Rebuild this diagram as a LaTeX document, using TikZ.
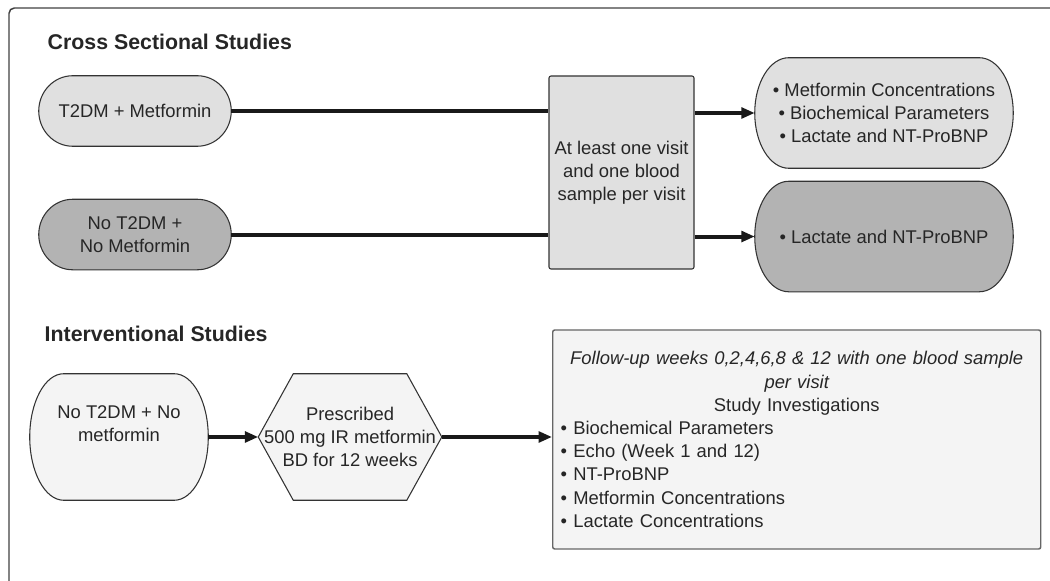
\documentclass[tikz,border=0pt]{standalone}
\usepackage{fontspec}
\setmainfont{Liberation Sans}
\usetikzlibrary{arrows.meta,positioning,calc,backgrounds}

\definecolor{boxlight}{HTML}{E0E0E0}
\definecolor{boxdark}{HTML}{B3B3B3}
\definecolor{boxpale}{HTML}{F4F4F4}
\definecolor{inkgray}{HTML}{262626}
\definecolor{edgegray}{HTML}{333333}

% half-width of the elliptic caps
\newcommand{\capr}{25.5pt}
% outline with elliptic ends round a named node
\newcommand{\stadium}[2]{%
  \path[draw=edgegray, line width=0.8pt, fill=#2]
    let \p1=(#1.north west), \p2=(#1.south east), \n1={(\y1-\y2)/2} in
    (\x1+\capr,\y1) -- (\x2-\capr,\y1)
    arc[start angle=90, end angle=-90, x radius=\capr, y radius=\n1]
    -- (\x1+\capr,\y2)
    arc[start angle=270, end angle=90, x radius=\capr, y radius=\n1] -- cycle;}
% flat hexagon round a named node
\newcommand{\hexa}[2]{%
  \path[draw=edgegray, line width=0.8pt, fill=#2]
    (#1.west) -- ($(#1.north west)+(35,0)$) -- ($(#1.north east)+(-35,0)$)
    -- (#1.east) -- ($(#1.south east)+(-35,0)$) -- ($(#1.south west)+(35,0)$) -- cycle;}

\begin{document}
\begin{tikzpicture}[
    x=0.75pt, y=0.75pt,
    font=\fontsize{13.8}{17.4}\selectfont,
    text=inkgray,
    >={Triangle[length=10pt,width=8pt]},
    heading/.style={anchor=base west, font=\fontsize{16}{18}\selectfont\bfseries},
    capsule/.style={
        rectangle, align=center, inner sep=0pt,
        minimum width=144pt, minimum height=52.5pt
    },
    result/.style={capsule, minimum width=193.5pt, minimum height=82.5pt},
    block/.style={
        rectangle, draw=edgegray, line width=0.8pt,
        rounded corners=1.5pt, align=center
    },
    link/.style={draw=black!90, line width=3pt},
]
  \useasboundingbox (0,0) rectangle (1050,581);

  %––– Outer frame ––––––––––––––––––––––––––––––––––––––––––
  \draw[draw=black!75, line width=1.1pt, rounded corners=4pt]
      (9,0) -- (9,573) -- (1050,573);

  %––– Cross sectional studies –––––––––––––––––––––––––––––
  \node (cshead) [heading] at (43,531) {Cross Sectional Studies};

  \node (t2dm)   [capsule] at (135,470) {T2DM + Metformin};
  \node (not2dm) [capsule, below=39.75pt of t2dm] {No T2DM +\\No Metformin};

  \node (visit) [block, fill=boxlight, minimum width=108.75pt, minimum height=144.75pt]
      at (621.5,408.5) {At least one visit\\and one blood\\sample per visit};

  \node (allres) [result] at (884,468) {%
      • Metformin Concentrations\\
      • Biochemical Parameters\\
      • Lactate and NT-ProBNP};
  \node (lacres) [result, below=9.75pt of allres] {• Lactate and NT-ProBNP};

  %––– Interventional studies ––––––––––––––––––––––––––––––
  \node (ivhead) [heading] at (40,239) {Interventional Studies};

  \node (healthy) [capsule, minimum width=133.5pt, minimum height=94.5pt,
      label={[yshift=10pt, align=center]center:No T2DM + No\\metformin}] at (119,144) {};

  \node (dose) [capsule, minimum width=137.25pt, minimum height=94.5pt,
      right=37.5pt of healthy]
      {Prescribed\\500 mg IR metformin\\BD for 12 weeks};

  \node (followup) [block, draw=black!60, line width=1.1pt, fill=boxpale,
      minimum height=164.25pt, text width=354pt, inner xsep=6pt, align=left,
      anchor=west] at (552,141.5) {%
      {\centering\itshape Follow-up weeks 0,2,4,6,8 \& 12 with one blood sample\\per visit\\
       \upshape Study Investigations\par}
      • Biochemical Parameters\\
      • Echo (Week 1 and 12)\\
      • NT-ProBNP\\
      • Metformin Concentrations\\
      • Lactate Concentrations};

  %––– Outlines –––––––––––––––––––––––––––––––––––––––––––––
  \begin{scope}[on background layer]
    \stadium{t2dm}{boxlight}
    \stadium{not2dm}{boxdark}
    \stadium{allres}{boxlight}
    \stadium{lacres}{boxdark}
    \stadium{healthy}{boxpale}
    \hexa{dose}{boxpale}
  \end{scope}

  %––– Arrows –––––––––––––––––––––––––––––––––––––––––––––––
  \draw[link] (t2dm.east) -- (t2dm.east -| visit.west);
  \draw[link] (not2dm.east) -- (not2dm.east -| visit.west);
  \draw[link, ->] (visit.east |- allres.west) -- (allres.west);
  \draw[link, ->] (visit.east |- lacres.west) -- (lacres.west);
  \draw[link, ->] (healthy.east) -- (dose.west);
  \draw[link, ->] (dose.east) -- (dose.east -| followup.west);
\end{tikzpicture}
\end{document}
